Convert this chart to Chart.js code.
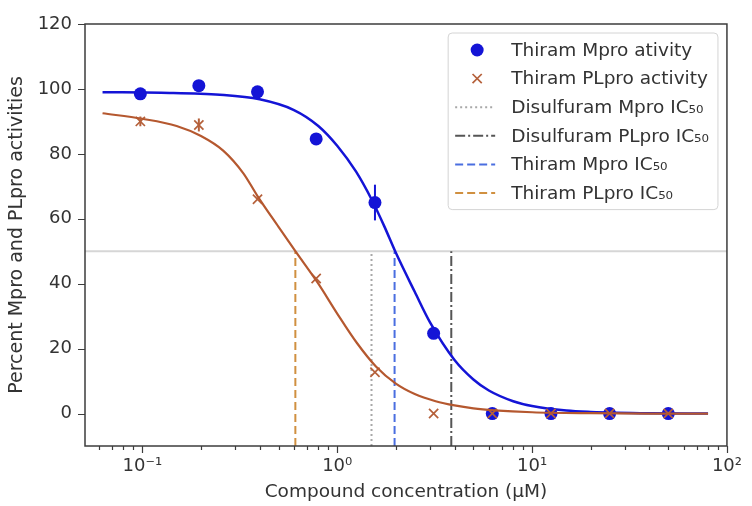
<!DOCTYPE html>
<html>
<head>
<meta charset="utf-8">
<script src="https://cdn.jsdelivr.net/npm/chart.js@4/dist/chart.umd.min.js"></script>
<style>
  html, body { margin: 0; padding: 0; background: #fff; }
</style>
</head>
<body>
<canvas id="chart" width="752" height="506"></canvas>
<script>
// measured points (2-fold dilution series, µM)
const conc = [0.0977, 0.195, 0.39, 0.78, 1.5625, 3.125, 6.25, 12.5, 25, 50];
const mpro = [98.5, 101, 99.1, 84.6, 65, 24.7, 0, 0, 0, 0];
const mproErr = [0, 0, 0, 0, 5.5, 0, 0, 0, 0, 0];
const plpro = [90, 88.9, 66, 41.6, 12.7, 0, 0, 0, 0, 0];
const plproErr = [1.5, 2, 0, 0, 0, 0, 0, 0, 0, 0];

// fitted curves
const mproFitX = [0.0625, 0.125, 0.25, 0.4, 0.6, 0.8, 1.0, 1.25, 1.5, 1.75, 2.0, 2.5, 3.0, 4.0, 5.0, 6.0, 8.0, 10, 15, 20, 40, 80];
const mproFitY = [99, 98.8, 98.2, 96.8, 93.5, 88.6, 82.5, 74.5, 66, 57.5, 49.5, 37.5, 28, 16.5, 10.5, 7.1, 3.8, 2.3, 0.9, 0.5, 0.1, 0];
const plproFitX = [0.0625, 0.1, 0.15, 0.2, 0.26, 0.33, 0.39, 0.5, 0.61, 0.8, 1.0, 1.26, 1.58, 2.0, 2.5, 3.2, 4.0, 5.0, 6.4, 10, 20, 40, 80];
const plproFitY = [92.5, 90.8, 88.6, 85.5, 81, 74, 67, 57.5, 50, 40, 30.8, 21.8, 14.5, 9.2, 6.0, 3.8, 2.5, 1.6, 1.0, 0.4, 0.1, 0, 0];

// IC50 markers
const icLabels = ['Disulfuram Mpro IC₅₀', 'Disulfuram PLpro IC₅₀', 'Thiram Mpro IC₅₀', 'Thiram PLpro IC₅₀'];
const icValues = [1.5, 3.85, 1.97, 0.61];
const icColors = ['#a8a8a8', '#555555', '#4a6ee0', '#d09040'];
const icDash = [[2, 3], [10, 3, 2, 3], [8, 4], [8, 4]];
const threshold = 50;

const xMin = 0.0508, xMax = 100;
const yMin = -10, yMax = 120;
const xTicks = [0.1, 1, 10, 100];
const yTicks = [0, 20, 40, 60, 80, 100, 120];

const FONT = "'DejaVu Sans', sans-serif";
const TEXT = '#333333';

const pts = (xs, ys) => xs.map((x, i) => ({ x: x, y: ys[i] }));

const datasets = [];
datasets.push({
    label: 'Thiram PLpro fit', data: pts(plproFitX, plproFitY), showLine: true,
    borderColor: '#b5582f', borderWidth: 2.2, pointRadius: 0, cubicInterpolationMode: 'monotone', order: 1
});
datasets.push({
    label: 'Thiram PLpro activity', data: pts(conc, plpro), showLine: false,
    pointStyle: 'crossRot', pointRadius: 6.5, borderColor: '#b5603a', borderWidth: 1.7, order: 2,
    errors: plproErr, legendKind: 'cross'
});
datasets.push({
    label: 'Thiram Mpro ativity', data: pts(conc, mpro), showLine: false,
    pointStyle: 'circle', pointRadius: 6.5, backgroundColor: '#1414d6', borderColor: '#1414d6', borderWidth: 0, order: 3,
    errors: mproErr, legendKind: 'dot'
});
datasets.push({
    label: 'Thiram Mpro fit', data: pts(mproFitX, mproFitY), showLine: true,
    borderColor: '#1414d6', borderWidth: 2.5, pointRadius: 0, cubicInterpolationMode: 'monotone', order: 4
});
icValues.forEach((v, i) => {
    datasets.push({
        label: icLabels[i], data: [{ x: v, y: yMin }, { x: v, y: threshold }], showLine: true,
        borderColor: icColors[i], borderWidth: 2, borderDash: icDash[i], pointRadius: 0, order: 5,
        legendKind: 'line'
    });
});
datasets.push({
    label: '50%', data: [{ x: xMin, y: threshold }, { x: xMax, y: threshold }], showLine: true,
    borderColor: '#d6d6d6', borderWidth: 1.8, pointRadius: 0, order: 6
});

const sup = { '-': '⁻', '0': '⁰', '1': '¹', '2': '²', '3': '³' };
const decadeLabel = v => '10' + String(Math.round(Math.log10(v))).split('').map(c => sup[c]).join('');

// frame, tick marks, error bars, legend
const decor = {
    id: 'decor',
    afterDatasetsDraw(chart) {
        const { ctx } = chart;
        const xs = chart.scales.x, ys = chart.scales.y;
        chart.data.datasets.forEach(ds => {
            if (!ds.errors) return;
            ctx.save();
            ctx.strokeStyle = ds.borderColor;
            ctx.lineWidth = 2;
            ds.data.forEach((p, i) => {
                const e = ds.errors[i];
                if (!e) return;
                const px = xs.getPixelForValue(p.x);
                ctx.beginPath();
                ctx.moveTo(px, ys.getPixelForValue(p.y - e));
                ctx.lineTo(px, ys.getPixelForValue(p.y + e));
                ctx.stroke();
            });
            ctx.restore();
        });
    },
    afterDraw(chart) {
        const { ctx, chartArea: a } = chart;
        const xs = chart.scales.x, ys = chart.scales.y;
        ctx.save();
        ctx.strokeStyle = '#3c3c3c';
        ctx.lineWidth = 1.5;
        ctx.strokeRect(a.left, a.top, a.right - a.left, a.bottom - a.top);

        ctx.lineWidth = 1.2;
        ctx.beginPath();
        for (let p = -2; p <= 2; p++) {
            for (let m = 1; m <= 9; m++) {
                const v = m * Math.pow(10, p);
                if (v < xMin || v > xMax) continue;
                const px = Math.round(xs.getPixelForValue(v)) + 0.5;
                ctx.moveTo(px, a.bottom);
                ctx.lineTo(px, a.bottom + (m === 1 ? 7 : 4));
            }
        }
        yTicks.forEach(v => {
            const py = Math.round(ys.getPixelForValue(v)) + 0.5;
            ctx.moveTo(a.left, py);
            ctx.lineTo(a.left - 7, py);
        });
        ctx.stroke();

        // legend
        const items = chart.data.datasets.filter(d => d.legendKind);
        const order = ['dot', 'cross'];
        items.sort((p, q) => {
            const ip = order.indexOf(p.legendKind), iq = order.indexOf(q.legendKind);
            return (ip < 0 ? 9 : ip) - (iq < 0 ? 9 : iq);
        });
        ctx.font = '18.5px ' + FONT;
        const textW = Math.max(...items.map(d => ctx.measureText(d.label).width));
        const rowH = 28.6;
        const boxR = a.right - 9, boxT = a.top + 9;
        const boxW = 63 + textW + 9, boxH = rowH * items.length + 5;
        const boxL = boxR - boxW;
        ctx.beginPath();
        ctx.roundRect(boxL, boxT, boxW, boxH, 4);
        ctx.fillStyle = 'rgba(255,255,255,0.85)';
        ctx.fill();
        ctx.strokeStyle = '#d4d4d4';
        ctx.lineWidth = 1;
        ctx.stroke();

        items.forEach((d, i) => {
            const cy = boxT + 17 + i * rowH;
            const mx = boxL + 29;
            if (d.legendKind === 'dot') {
                ctx.beginPath();
                ctx.arc(mx, cy, 6.5, 0, Math.PI * 2);
                ctx.fillStyle = d.backgroundColor;
                ctx.fill();
            } else if (d.legendKind === 'cross') {
                ctx.beginPath();
                ctx.strokeStyle = d.borderColor;
                ctx.lineWidth = 1.7;
                ctx.setLineDash([]);
                ctx.moveTo(mx - 4.6, cy - 4.6); ctx.lineTo(mx + 4.6, cy + 4.6);
                ctx.moveTo(mx + 4.6, cy - 4.6); ctx.lineTo(mx - 4.6, cy + 4.6);
                ctx.stroke();
            } else {
                ctx.beginPath();
                ctx.strokeStyle = d.borderColor;
                ctx.lineWidth = 2;
                ctx.setLineDash(d.borderDash);
                ctx.moveTo(boxL + 7, cy);
                ctx.lineTo(boxL + 47, cy);
                ctx.stroke();
                ctx.setLineDash([]);
            }
            ctx.fillStyle = TEXT;
            ctx.textAlign = 'left';
            ctx.textBaseline = 'middle';
            ctx.fillText(d.label, boxL + 63, cy + 1);
        });
        ctx.restore();
    }
};

new Chart(document.getElementById('chart'), {
    type: 'scatter',
    data: { datasets: datasets },
    plugins: [decor],
    options: {
        responsive: false,
        animation: false,
        devicePixelRatio: 1,
        layout: { padding: { left: 0, right: 19, top: 24, bottom: 0 } },
        plugins: { legend: { display: false }, tooltip: { enabled: false } },
        scales: {
            x: {
                type: 'logarithmic', min: xMin, max: xMax,
                border: { display: false },
                grid: { display: false, drawTicks: false },
                afterBuildTicks: s => { s.ticks = xTicks.map(v => ({ value: v })); },
                afterFit: s => { s.height = 60; },
                ticks: {
                    autoSkip: false, maxRotation: 0, padding: 10,
                    color: TEXT, font: { family: FONT, size: 18 },
                    callback: v => decadeLabel(v)
                },
                title: {
                    display: true, text: 'Compound concentration (μM)', color: TEXT,
                    font: { family: FONT, size: 18.5 }, padding: { top: 0, bottom: 3 }
                }
            },
            y: {
                min: yMin, max: yMax,
                border: { display: false },
                grid: { display: false, drawTicks: false },
                afterBuildTicks: s => { s.ticks = yTicks.map(v => ({ value: v })); },
                afterFit: s => { s.width = 85; },
                ticks: { padding: 13, color: TEXT, font: { family: FONT, size: 18 } },
                title: {
                    display: true, text: 'Percent Mpro and PLpro activities', color: TEXT,
                    font: { family: FONT, size: 19 }, padding: { top: 6, bottom: 0 }
                }
            }
        }
    }
});
</script>
</body>
</html>
